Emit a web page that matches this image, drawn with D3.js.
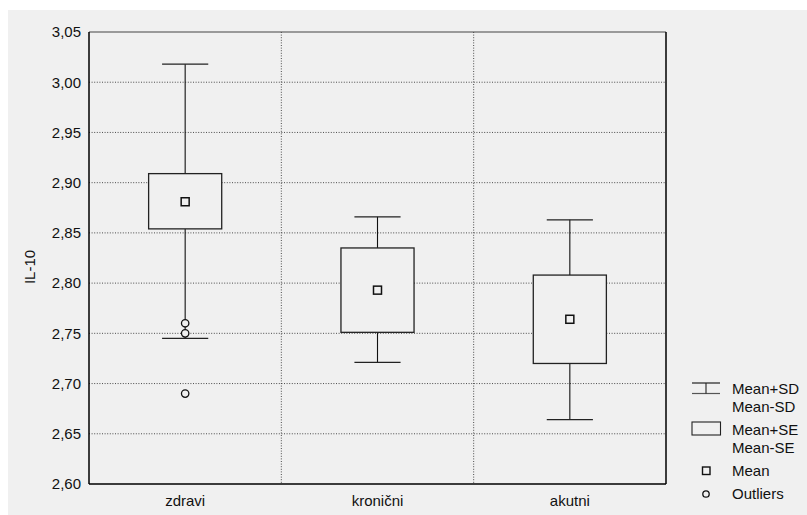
<!DOCTYPE html>
<html>
<head>
<meta charset="utf-8">
<script src="https://cdn.jsdelivr.net/npm/d3@7"></script>
<style>
  body { margin: 0; background: #fff; }
  text { font-family: "Liberation Sans", Arial, sans-serif; fill: #111; }
</style>
</head>
<body>
<div id="chart"></div>
<script>
// data
const categories = ["zdravi", "kronični", "akutni"];
const means = [2.881, 2.793, 2.764];
const seHigh = [2.909, 2.835, 2.808];
const seLow = [2.854, 2.751, 2.720];
const sdHigh = [3.018, 2.866, 2.863];
const sdLow = [2.745, 2.721, 2.664];
const outlierCats = ["zdravi", "zdravi", "zdravi"];
const outlierValues = [2.760, 2.750, 2.690];
const yTicks = [2.60, 2.65, 2.70, 2.75, 2.80, 2.85, 2.90, 2.95, 3.00, 3.05];
const legendLabels = [["Mean+SD", "Mean-SD"], ["Mean+SE", "Mean-SE"], ["Mean"], ["Outliers"]];

const W = 807, H = 515;
const plot = {left: 89, right: 666, top: 32, bottom: 484};
const fontSize = "15px";

const svg = d3.select("#chart").append("svg")
    .attr("width", W)
    .attr("height", H);

// gray panel
svg.append("rect")
    .attr("x", 8).attr("y", 10)
    .attr("width", W - 8).attr("height", H - 10)
    .attr("fill", "#f0f0f0");

const x = d3.scaleBand()
    .domain(categories)
    .range([plot.left, plot.right])
    .padding(0);

const y = d3.scaleLinear()
    .domain([2.60, 3.05])
    .range([plot.bottom, plot.top]);

const fmt = d => d3.format(".2f")(d).replace(".", ",");

// horizontal grid
svg.append("g")
  .selectAll("line")
  .data(yTicks.slice(1, -1))
  .enter().append("line")
    .attr("x1", plot.left).attr("x2", plot.right)
    .attr("y1", d => y(d)).attr("y2", d => y(d))
    .attr("stroke", "#222")
    .attr("stroke-width", 0.8)
    .attr("stroke-dasharray", "1,1.6");

// vertical grid at category borders
svg.append("g")
  .selectAll("line")
  .data(categories.slice(1))
  .enter().append("line")
    .attr("x1", d => x(d)).attr("x2", d => x(d))
    .attr("y1", plot.top).attr("y2", plot.bottom)
    .attr("stroke", "#222")
    .attr("stroke-width", 0.8)
    .attr("stroke-dasharray", "1,1.6");

// y axis
const yAxis = svg.append("g")
    .attr("transform", "translate(" + plot.left + ",0)")
    .call(d3.axisLeft(y).tickValues(yTicks).tickFormat(fmt).tickSize(0).tickPadding(8));
yAxis.select(".domain").remove();
yAxis.selectAll("text")
    .style("font-size", fontSize)
    .style("font-family", "Liberation Sans, Arial, sans-serif")
    .attr("fill", "#111");

// x axis
const xAxis = svg.append("g")
    .attr("transform", "translate(0," + plot.bottom + ")")
    .call(d3.axisBottom(x).tickSize(0).tickPadding(11));
xAxis.select(".domain").remove();
xAxis.selectAll("text")
    .style("font-size", fontSize)
    .style("font-family", "Liberation Sans, Arial, sans-serif")
    .attr("fill", "#111");

// frame
svg.append("line")
    .attr("x1", plot.left).attr("x2", plot.right)
    .attr("y1", plot.top).attr("y2", plot.top)
    .attr("stroke", "#444").attr("stroke-width", 1.2);
svg.append("line")
    .attr("x1", plot.right).attr("x2", plot.right)
    .attr("y1", plot.top).attr("y2", plot.bottom)
    .attr("stroke", "#000").attr("stroke-width", 1.5);
svg.append("line")
    .attr("x1", plot.left).attr("x2", plot.left)
    .attr("y1", plot.top).attr("y2", plot.bottom)
    .attr("stroke", "#000").attr("stroke-width", 1.5);
svg.append("line")
    .attr("x1", plot.left).attr("x2", plot.right)
    .attr("y1", plot.bottom).attr("y2", plot.bottom)
    .attr("stroke", "#000").attr("stroke-width", 1.5);

// y label
svg.append("text")
    .attr("transform", "translate(35,267) rotate(-90)")
    .attr("text-anchor", "middle")
    .style("font-size", fontSize)
    .text("IL-10");

// boxes
const bw = x.bandwidth();
const boxW = bw * 0.38, capW = bw * 0.24, meanS = 8;
const g = svg.append("g");

categories.forEach((c, i) => {
    const cx = x(c) + bw / 2;
    // whiskers
    g.append("line")
        .attr("x1", cx).attr("x2", cx)
        .attr("y1", y(sdHigh[i])).attr("y2", y(seHigh[i]))
        .attr("stroke", "#111").attr("stroke-width", 1.1);
    g.append("line")
        .attr("x1", cx).attr("x2", cx)
        .attr("y1", y(seLow[i])).attr("y2", y(sdLow[i]))
        .attr("stroke", "#111").attr("stroke-width", 1.1);
    [sdHigh[i], sdLow[i]].forEach(v => {
        g.append("line")
            .attr("x1", cx - capW / 2).attr("x2", cx + capW / 2)
            .attr("y1", y(v)).attr("y2", y(v))
            .attr("stroke", "#222").attr("stroke-width", 1.3);
    });
    // SE box
    g.append("rect")
        .attr("x", cx - boxW / 2)
        .attr("y", y(seHigh[i]))
        .attr("width", boxW)
        .attr("height", y(seLow[i]) - y(seHigh[i]))
        .attr("fill", "#f0f0f0")
        .attr("stroke", "#222").attr("stroke-width", 1.3);
    // mean
    g.append("rect")
        .attr("x", cx - meanS / 2)
        .attr("y", y(means[i]) - meanS / 2)
        .attr("width", meanS).attr("height", meanS)
        .attr("fill", "#f0f0f0")
        .attr("stroke", "#111").attr("stroke-width", 1.5);
});

// outliers
g.selectAll("circle.out")
  .data(outlierValues)
  .enter().append("circle")
    .attr("class", "out")
    .attr("cx", (d, i) => x(outlierCats[i]) + bw / 2)
    .attr("cy", d => y(d))
    .attr("r", 3.7)
    .attr("fill", "#f0f0f0")
    .attr("stroke", "#111").attr("stroke-width", 1.3);

// legend
const lg = svg.append("g");
const lx = 706, tx = 732;
// SD symbol
lg.append("line").attr("x1", lx - 14).attr("x2", lx + 14).attr("y1", 383).attr("y2", 383).attr("stroke", "#222").attr("stroke-width", 1.2);
lg.append("line").attr("x1", lx - 14).attr("x2", lx + 14).attr("y1", 393.5).attr("y2", 393.5).attr("stroke", "#555").attr("stroke-width", 1.2);
lg.append("line").attr("x1", lx).attr("x2", lx).attr("y1", 383).attr("y2", 393.5).attr("stroke", "#222").attr("stroke-width", 1.1);
// SE symbol
lg.append("rect").attr("x", lx - 14).attr("y", 422).attr("width", 28.5).attr("height", 13)
    .attr("fill", "none").attr("stroke", "#222").attr("stroke-width", 1.1);
// mean symbol
lg.append("rect").attr("x", lx - 3.5).attr("y", 467).attr("width", 7.5).attr("height", 7.5)
    .attr("fill", "none").attr("stroke", "#111").attr("stroke-width", 1.4);
// outlier symbol
lg.append("circle").attr("cx", lx).attr("cy", 494).attr("r", 3.2)
    .attr("fill", "none").attr("stroke", "#111").attr("stroke-width", 1.3);

const legendY = [[389, 407], [430, 448], [471], [494]];
legendLabels.forEach((labels, i) => {
    labels.forEach((t, j) => {
        lg.append("text")
            .attr("x", tx).attr("y", legendY[i][j])
            .attr("dy", "0.35em")
            .style("font-size", fontSize)
            .text(t);
    });
});
</script>
</body>
</html>
